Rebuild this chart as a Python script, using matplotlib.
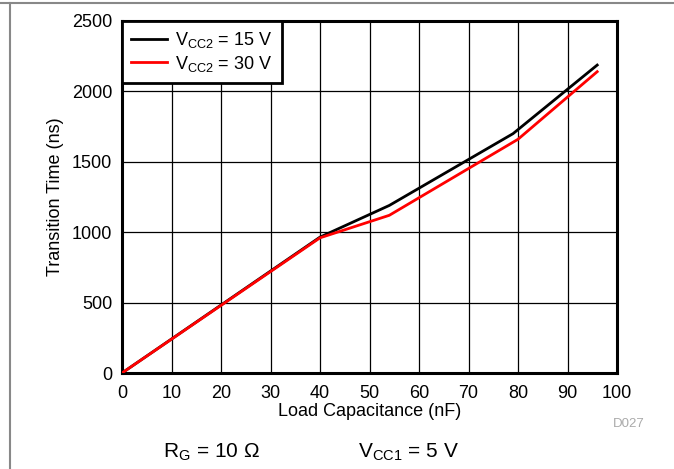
import matplotlib
matplotlib.use("Agg")
import matplotlib.pyplot as plt
from matplotlib.lines import Line2D

plt.rcParams['font.family'] = ['Liberation Sans', 'DejaVu Sans']
plt.rcParams['mathtext.fontset'] = 'custom'
plt.rcParams['mathtext.rm'] = 'Liberation Sans'

cap_15 = [0, 40, 54, 79, 96]
time_15 = [0, 965, 1190, 1700, 2187]
cap_30 = [0, 40, 54, 80, 96]
time_30 = [0, 960, 1120, 1660, 2140]

x_ticks = [0, 10, 20, 30, 40, 50, 60, 70, 80, 90, 100]
y_ticks = [0, 500, 1000, 1500, 2000, 2500]

fig = plt.figure(figsize=(6.74, 4.69), dpi=100)
ax = fig.add_axes([122/674, 1-373/469, (617-122)/674, (373-21)/469])

ax.plot(cap_15, time_15, color='black', lw=2, label=r'V$_\mathregular{CC2}$ = 15 V', zorder=3)
ax.plot(cap_30, time_30, color='#ff0000', lw=2, label=r'V$_\mathregular{CC2}$ = 30 V', zorder=4)

ax.set_xlim(0, 100)
ax.set_ylim(0, 2500)
ax.set_xticks(x_ticks)
ax.set_yticks(y_ticks)
ax.grid(True, color='black', lw=0.9)
ax.tick_params(axis='x', length=0, labelsize=13, pad=9)
ax.tick_params(axis='y', length=0, labelsize=13, pad=7)
for s in ax.spines.values():
    s.set_linewidth(2.2)
    s.set_color('black')
ax.set_xlabel('Load Capacitance (nF)', fontsize=13, labelpad=0)
ax.set_ylabel('Transition Time (ns)', fontsize=13, labelpad=6)

leg = ax.legend(loc='upper left', fontsize=13, frameon=True, fancybox=False,
                borderaxespad=0, handlelength=2.0, handletextpad=0.45,
                borderpad=0.5, labelspacing=0.2, framealpha=1)
leg.get_frame().set_edgecolor('black')
leg.get_frame().set_linewidth(2)

fig.text(613/674, 1-424/469, 'D027', color='#aaaaaa', fontsize=9.5, va='center')
fig.text(163/674, 1-452/469, r'R$_\mathregular{G}$ = 10 Ω', fontsize=15, va='center')
fig.text(358/674, 1-452/469, r'V$_\mathregular{CC1}$ = 5 V', fontsize=15, va='center')

fig.add_artist(Line2D([0, 1], [1-3.5/469, 1-3.5/469], color='#888888', lw=1.5))
fig.add_artist(Line2D([9.5/674, 9.5/674], [0, 1-3.5/469], color='#888888', lw=1.5))

fig.savefig('out.png', dpi=100)
